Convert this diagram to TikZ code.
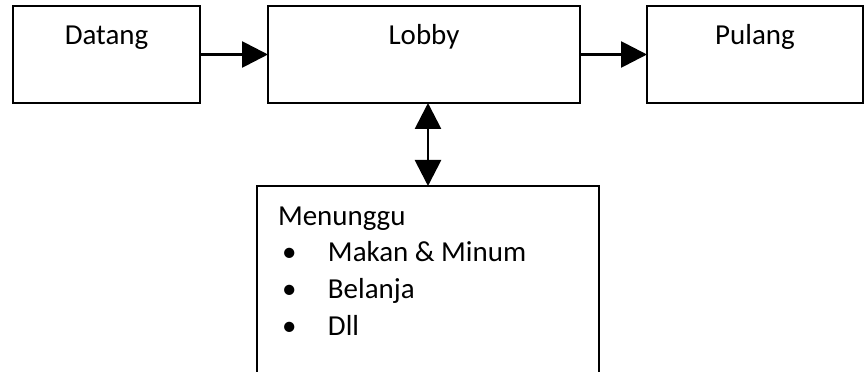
\documentclass[tikz,border=0pt]{standalone}
\usepackage{fontspec}
\setmainfont{Carlito}
\usetikzlibrary{positioning,arrows.meta}
\tikzset{
  box/.style={draw, line width=1.5pt, inner sep=0pt, outer sep=0pt, minimum height=2.425cm, text height=0.975cm, text depth=1.45cm},
  waitbox/.style={box, minimum width=8.55cm, text depth=4.525cm},
  arr/.style={-{Triangle[length=0.65cm, width=0.65cm]}, line width=2pt},
  dblarr/.style={{Triangle[length=0.65cm, width=0.65cm]}-{Triangle[length=0.65cm, width=0.65cm]}, line width=2pt}
}
\begin{document}
\begin{tikzpicture}[node distance=1.7cm, font=\fontsize{20.6}{26.3}\selectfont]
    \useasboundingbox (0,0) rectangle (21.675,-9.3);
    \clip (0,0) rectangle (21.675,-9.3);
    \node[box, minimum width=4.675cm] (datang) at (2.6625,-1.3625) {Datang};
    \node[box, right=of datang, minimum width=7.8cm] (lobby) {Lobby};
    \node[box, right=1.675cm of lobby, minimum width=5.4cm] (pulang) {Pulang};
    \node[waitbox, below=2.075cm of lobby, xshift=0.1cm] (tunggu) {\makebox[7.5cm][l]{\begin{tabular}[t]{@{}l@{}l@{}}
        \multicolumn{2}{@{}l@{}}{Menunggu}\\
        \makebox[1.25cm][l]{\hspace{0.1cm}\textbullet} & Makan \& Minum\\
        \makebox[1.25cm][l]{\hspace{0.1cm}\textbullet} & Belanja\\
        \makebox[1.25cm][l]{\hspace{0.1cm}\textbullet} & Dll
    \end{tabular}}};

    \draw[arr] (datang) -- (lobby);
    \draw[arr] (lobby) -- (pulang);
    \draw[dblarr] (lobby.south -| tunggu.north) -- (tunggu.north);
\end{tikzpicture}
\end{document}
